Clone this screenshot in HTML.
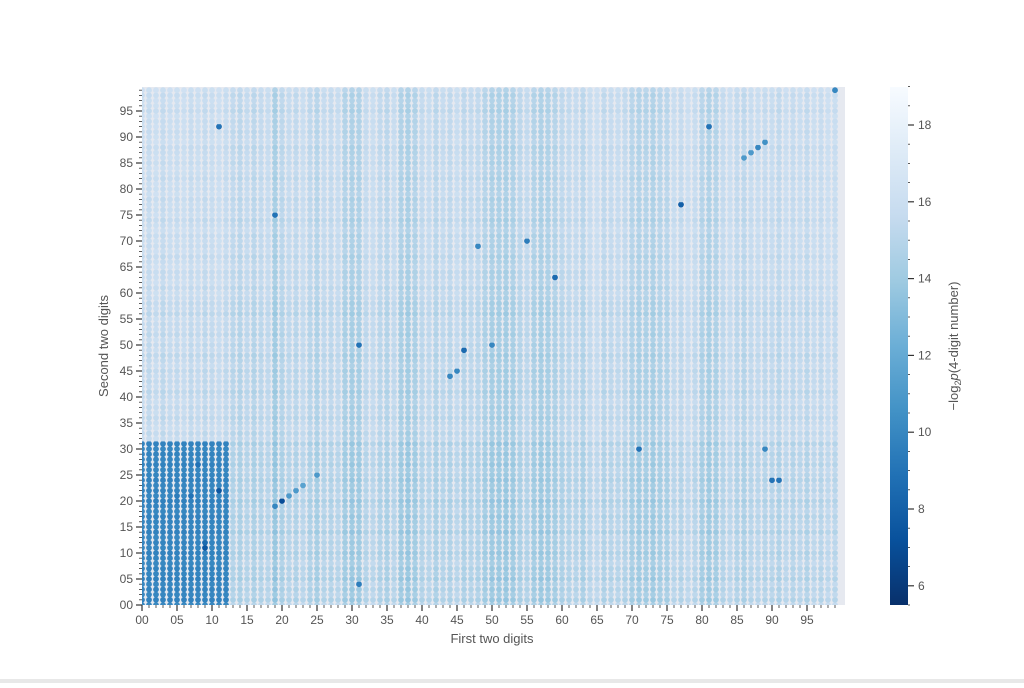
<!DOCTYPE html>
<html><head><meta charset="utf-8"><style>
body{margin:0;background:#fff;width:1024px;height:683px;overflow:hidden;font-family:"Liberation Sans",sans-serif}
svg text{font-family:"Liberation Sans",sans-serif;fill:#555}
</style></head><body>
<svg id="chart" width="1024" height="683" xmlns="http://www.w3.org/2000/svg">
<defs><linearGradient id="cb" x1="0" y1="1" x2="0" y2="0">
<stop offset="0" stop-color="#08306b"/><stop offset="0.125" stop-color="#08519c"/><stop offset="0.25" stop-color="#2171b5"/><stop offset="0.375" stop-color="#4292c6"/><stop offset="0.5" stop-color="#6baed6"/><stop offset="0.625" stop-color="#9ecae1"/><stop offset="0.75" stop-color="#c6dbef"/><stop offset="0.875" stop-color="#deebf7"/><stop offset="1" stop-color="#f7fbff"/></linearGradient>
<clipPath id="pc"><rect x="142" y="87" width="703" height="518"/></clipPath></defs>
<rect x="142" y="87" width="703" height="518" fill="#e6e9f0"/>
<g id="dots" clip-path="url(#pc)"></g>
<g id="axes"></g>
<rect x="890" y="87" width="18" height="518" fill="url(#cb)"/>
<text x="492" y="643" text-anchor="middle" font-size="13">First two digits</text>
<text transform="translate(108,346) rotate(-90)" text-anchor="middle" font-size="13">Second two digits</text>
<text transform="translate(958,346) rotate(-90)" text-anchor="middle" font-size="13">−log<tspan font-size="9" dy="3">2</tspan><tspan dy="-3" font-style="italic">p</tspan>(4-digit number)</text>
<rect x="0" y="679" width="1024" height="4" fill="#e8e8e8"/>
</svg>
<script>
const colBase=[15.3,15.1,15.4,15.0,15.3,15.2,15.4,15.1,15.3,15.0,15.2,15.4,15.1,14.8,14.6,15.0,14.6,14.9,15.1,13.8,14.6,15.0,14.8,15.2,14.7,14.4,15.0,14.9,15.1,14.2,14.0,14.1,15.0,15.2,14.8,14.6,15.1,14.1,13.9,14.2,14.9,15.1,14.6,15.0,14.8,15.2,14.7,14.9,14.8,14.3,14.0,14.0,13.9,14.1,14.6,14.9,14.2,14.0,14.1,14.3,14.7,14.9,15.0,14.6,15.2,15.4,14.8,15.0,15.1,14.9,14.4,14.2,14.3,14.1,14.4,14.5,15.2,15.0,15.4,15.1,14.4,14.1,14.3,15.0,15.3,14.9,14.7,15.1,15.2,15.0,15.1,14.8,15.3,15.0,15.2,14.9,15.3,15.1,15.4,15.2];
const rowOffset=[0.4,-0.3,0.2,-0.2,0.3,-0.4,0.1,-0.2,0.3,0.0,-0.3,0.2,-0.1,0.3,-0.4,0.2,0.0,-0.3,0.2,-0.1,-0.4,0.3,-0.2,0.1,-0.3,0.0,0.2,-0.3,0.1,-0.2,0.3,-0.3,0.6,0.2,0.7,0.4,0.1,0.5,0.2,0.6,0.3,0.0,0.5,0.2,0.4,0.1,0.6,0.3,0.0,0.5,0.2,0.6,0.1,0.4,0.3,0.6,0.0,0.4,0.2,0.5,0.7,0.3,0.8,0.5,0.4,0.9,0.6,0.3,0.8,0.5,0.7,0.4,0.9,0.6,0.3,0.8,0.5,0.7,0.4,0.9,0.6,0.8,0.4,0.7,0.9,0.5,0.8,0.6,0.4,0.9,0.7,0.5,0.8,0.6,0.9,0.4,0.7,0.8,0.5,0.9];
const blockRegion=[0,12,0,31];
const blockValue=9.9;
const specials=[[11,22,7.5],[9,11,7.5],[9,12,8.5],[20,20,7],[19,19,10],[11,92,9],[19,75,9],[31,50,9],[31,4,9.5],[46,49,8.5],[45,45,10],[44,44,10],[50,50,10],[48,69,10],[55,70,9.5],[59,63,8.5],[77,77,8],[81,92,9],[88,88,10],[89,89,10.5],[87,87,11],[86,86,11],[90,24,9],[91,24,9],[89,30,10],[71,30,9],[99,99,10],[25,25,11],[22,22,11],[23,23,11.5],[21,21,11],[7,21,9],[5,21,9.5],[8,27,9]];
const xTicks=["00","05","10","15","20","25","30","35","40","45","50","55","60","65","70","75","80","85","90","95"];
const cbTicks=[6,8,10,12,14,16,18];
const X=v=>142+7.0*v, Y=v=>605-5.2*v, CB=v=>605-(v-5.5)*38.4;
const stops=[[8,48,107],[8,81,156],[33,113,181],[66,146,198],[107,174,214],[158,202,225],[198,219,239],[222,235,247],[247,251,255]];
function col(v){let t=Math.max(0,Math.min(1,(v-5.5)/13.5))*8,i=Math.min(7,Math.floor(t)),f=t-i,a=stops[i],b=stops[i+1];return `rgb(${a.map((c,k)=>Math.round(c+(b[k]-c)*f)).join(',')})`;}
const NS="http://www.w3.org/2000/svg",dots=document.getElementById('dots'),ax=document.getElementById('axes');
const sp={};specials.forEach(s=>sp[s[0]+','+s[1]]=s[2]);
for(let i=0;i<100;i++)for(let j=0;j<100;j++){
 let v=colBase[i]+rowOffset[j];
 if(i>=blockRegion[0]&&i<=blockRegion[1]&&j>=blockRegion[2]&&j<=blockRegion[3])v=blockValue+rowOffset[j]*0.5;
 if(sp[i+','+j]!==undefined)v=sp[i+','+j];
 const c=document.createElementNS(NS,'circle');
 
 
 c.setAttribute('cx',X(i));c.setAttribute('cy',Y(j));c.setAttribute('r',2.9);c.setAttribute('fill',col(v));dots.appendChild(c);}
function line(x1,y1,x2,y2,w){const l=document.createElementNS(NS,'line');l.setAttribute('x1',x1);l.setAttribute('y1',y1);l.setAttribute('x2',x2);l.setAttribute('y2',y2);l.setAttribute('stroke','#333');l.setAttribute('stroke-width',w);ax.appendChild(l);}
function text(x,y,s,anchor){const t=document.createElementNS(NS,'text');
 
 
 t.setAttribute('x',x);t.setAttribute('y',y);t.setAttribute('text-anchor',anchor);t.setAttribute('font-size','12');t.textContent=s;ax.appendChild(t);}
for(let k=0;k<100;k++){const maj=k%5===0;
 line(X(k),605,X(k),605+(maj?6:3),maj?1.2:0.8);
 line(142,Y(k),142-(maj?6:3),Y(k),maj?1.2:0.8);}
xTicks.forEach(s=>{const v=+s;text(X(v),624,s,'middle');text(133,Y(v)+4,s,'end');});
for(let v=5.5;v<=19;v+=0.5){const maj=v%2===0;line(908,CB(v),908+(maj?6:2),CB(v),maj?1.2:0.8);}
cbTicks.forEach(v=>text(918,CB(v)+4,String(v),'start'));
</script>
</body></html>
